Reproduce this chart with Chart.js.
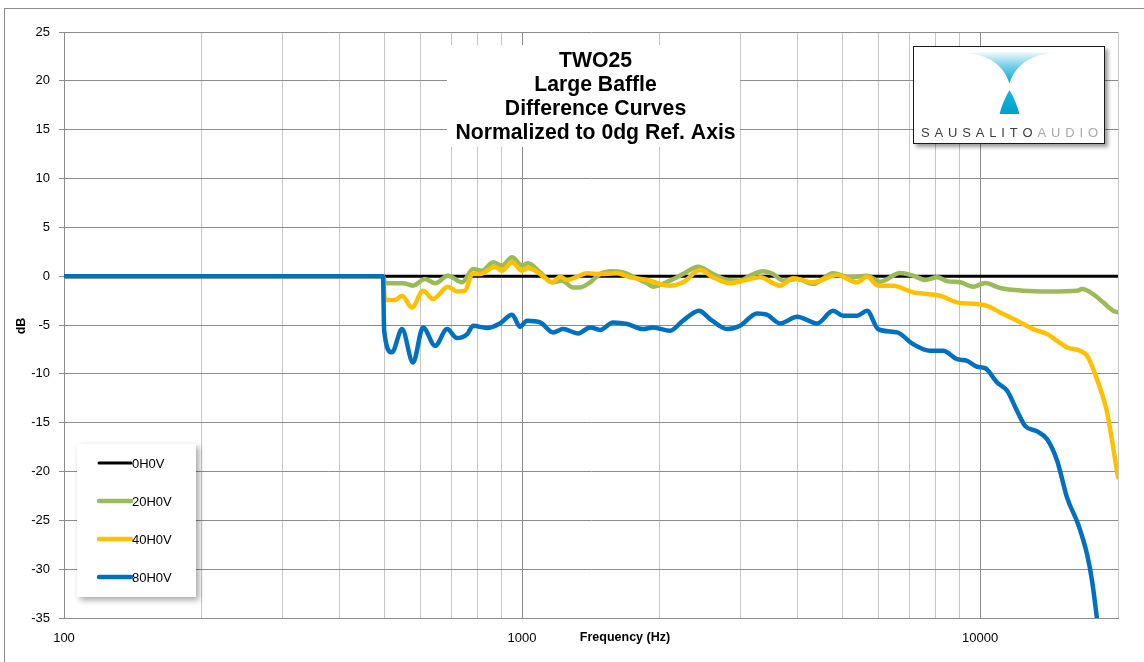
<!DOCTYPE html>
<html>
<head>
<meta charset="utf-8">
<script src="https://cdn.jsdelivr.net/npm/chart.js@4/dist/chart.umd.min.js"></script>
<style>
  html, body { margin: 0; padding: 0; background: #fff; }
  canvas { display: block; }
</style>
</head>
<body>
<canvas id="chart" width="1144" height="662"></canvas>
<script>
// ---- Series names and colours ----
const seriesNames  = ['0H0V', '20H0V', '40H0V', '80H0V'];
const seriesColors = ['#000000', '#9BBB59', '#FFC000', '#0070C0'];
const seriesWidths = [3, 4.5, 4.5, 4.5];

// ---- 0H0V reference axis (Hz / dB) ----
const freq0 = [100, 20000];
const db0   = [0, 0];

// ---- 20H0V (Hz / dB) ----
const freq20 = [100, 497, 502, 550, 578, 614, 646, 689, 740, 782, 818, 865, 904, 951, 1000, 1031, 1095, 1163, 1223, 1292,
  1339, 1408, 1480, 1556, 1662, 1748, 1875, 1932, 2104, 2246, 2423, 2612, 2804, 2992, 3146, 3359, 3532, 3715, 3986, 4318,
  4775, 5203, 5665, 6049, 6690, 7141, 7585, 8056, 8513, 9045, 9654, 10254, 11058, 12413, 14217, 16285, 16698, 17646, 18562, 19517, 20000];
const db20 = [0, 0, -0.73, -0.73, -0.97, -0.29, -0.73, 0.05, -0.63, 0.73, 0.56, 1.42, 1.08, 1.93, 1.08, 1.32, 0.39, -0.63, -0.46, -1.15,
  -1.15, -0.63, 0.22, 0.5, 0.39, -0.05, -0.73, -1.08, -0.46, 0.22, 0.97, 0.22, -0.39, -0.46, 0.05, 0.5, 0.22, -0.46, -0.29, -0.8,
  0.29, -0.12, 0.05, -0.56, 0.32, 0.05, -0.39, -0.12, -0.53, -0.63, -1.08, -0.7, -1.21, -1.49, -1.56, -1.49, -1.32, -1.83, -2.68, -3.54, -3.71];

// ---- 40H0V (Hz / dB) ----
const freq40 = [100, 497, 502, 528, 547, 575, 608, 639, 689, 721, 751, 778, 810, 873, 904, 951, 1000, 1031, 1095, 1163,
  1211, 1254, 1319, 1387, 1480, 1612, 1721, 1875, 2104, 2246, 2447, 2612, 2846, 3037, 3309, 3659, 3906, 4318, 4873, 5387,
  5665, 5988, 6457, 7141, 7662, 8179, 8908, 9849, 10358, 11058, 12044, 13054, 14006, 14728, 15488, 16531, 17124, 17827, 18562, 18937, 20000];
const db40 = [0, 0, -2.44, -2.44, -2.0, -3.2, -1.49, -2.34, -1.08, -1.56, -1.49, 0.22, 0.22, 0.97, 0.56, 1.42, 0.56, 0.84, 0.22, -0.63,
  -0.05, -0.39, -0.05, 0.29, 0.22, 0.29, -0.12, -0.39, -0.97, -0.63, 0.63, -0.12, -0.73, -0.46, -0.12, -0.97, -0.22, -0.63, 0.12, -0.63,
  -0.05, -0.97, -0.97, -1.66, -1.83, -2.0, -2.68, -2.85, -3.03, -3.71, -4.56, -5.42, -5.93, -6.62, -7.3, -7.64, -8.15, -10.03, -12.43, -13.97, -20.6];

// ---- 80H0V (Hz / dB) ----
const freq80 = [100, 497, 500, 520, 547, 578, 608, 646, 686, 721, 759, 782, 839, 895, 951, 990, 1025, 1095, 1169, 1229,
  1326, 1408, 1480, 1580, 1696, 1838, 1932, 2104, 2246, 2435, 2573, 2804, 2992, 3259, 3427, 3659, 3986, 4406, 4775, 5023,
  5387, 5665, 5988, 6590, 7141, 7778, 8304, 8908, 9368, 9849, 10254, 10892, 11455, 12044, 12539, 13323, 14006, 14728, 15488, 16368,
  17124, 17556, 18009];
const db80 = [0, 0, -5.6, -7.8, -5.42, -8.84, -5.25, -7.13, -5.42, -6.34, -5.93, -5.08, -5.3, -4.84, -3.95, -5.18, -4.56, -4.74, -5.76, -5.42,
  -5.86, -5.25, -5.5, -4.74, -4.9, -5.42, -5.25, -5.59, -4.56, -3.54, -4.39, -5.42, -5.08, -3.81, -3.95, -4.84, -4.15, -4.84, -3.54, -4.05,
  -4.05, -3.54, -5.42, -5.76, -6.96, -7.64, -7.64, -8.5, -8.67, -9.28, -9.42, -10.89, -11.74, -13.8, -15.33, -15.9, -16.7, -18.9, -22.7, -25.4,
  -28.5, -31.2, -35.2];

// ---- Axes ----
const freqGrid   = [100, 200, 300, 400, 500, 600, 700, 800, 900,
                    1000, 2000, 3000, 4000, 5000, 6000, 7000, 8000, 9000,
                    10000, 20000];
const freqLabels = [100, 1000, 10000];
const dbMin = -35, dbMax = 25, dbStep = 5;

const titleLines = ['TWO25', 'Large Baffle', 'Difference Curves', 'Normalized to 0dg Ref. Axis'];
const xTitle = 'Frequency (Hz)';
const yTitle = 'dB';
const logoWordA = 'SAUSALITO';
const logoWordB = 'AUDIO';

const FONT = "'Liberation Sans', Arial, sans-serif";

function pairs(fs, ds) { return fs.map((f, i) => ({ x: f, y: ds[i] })); }

const allFreqs = [freq0, freq20, freq40, freq80];
const allDbs   = [db0, db20, db40, db80];

const datasets = seriesNames.map((name, i) => ({
  label: name,
  data: pairs(allFreqs[i], allDbs[i]),
  borderColor: seriesColors[i],
  backgroundColor: seriesColors[i],
  borderWidth: seriesWidths[i],
  pointRadius: 0,
  showLine: true,
  fill: false,
  cubicInterpolationMode: 'monotone',
  borderCapStyle: 'round',
  borderJoinStyle: 'round',
  clip: 0,
  order: seriesNames.length - i   // later series sit on top
}));

const decorations = {
  id: 'decorations',
  beforeDraw(chart) {
    const ctx = chart.ctx;
    ctx.save();
    ctx.fillStyle = '#ffffff';
    ctx.fillRect(0, 0, chart.width, chart.height);
    ctx.strokeStyle = '#8c8c8c';
    ctx.lineWidth = 1;
    ctx.strokeRect(4.5, 8.5, chart.width + 20, chart.height + 20);
    ctx.restore();
  },
  afterDraw(chart) {
    const ctx = chart.ctx;
    ctx.save();

    // Axis titles
    ctx.fillStyle = '#000';
    ctx.font = `bold 12.5px ${FONT}`;
    ctx.textAlign = 'center';
    ctx.textBaseline = 'middle';
    ctx.fillText(xTitle, 625, 638);
    ctx.save();
    ctx.translate(22, 326);
    ctx.rotate(-Math.PI / 2);
    ctx.fillText(yTitle, 0, 0);
    ctx.restore();

    // Chart title on a white panel
    ctx.fillStyle = '#ffffff';
    ctx.fillRect(447, 45, 293, 102);
    ctx.fillStyle = '#000';
    ctx.font = `bold 21.2px ${FONT}`;
    ctx.textAlign = 'center';
    ctx.textBaseline = 'alphabetic';
    titleLines.forEach((t, i) => ctx.fillText(t, 595.5, 66.5 + i * 24));

    // Legend panel
    ctx.save();
    ctx.shadowColor = 'rgba(0,0,0,0.35)';
    ctx.shadowBlur = 6;
    ctx.shadowOffsetX = 3;
    ctx.shadowOffsetY = 3;
    ctx.fillStyle = '#ffffff';
    ctx.fillRect(77, 444, 119, 153);
    ctx.restore();
    ctx.font = `13px ${FONT}`;
    ctx.textAlign = 'left';
    ctx.textBaseline = 'middle';
    chart.data.datasets.forEach((ds, i) => {
      const y = 463 + i * 38;
      ctx.strokeStyle = ds.borderColor;
      ctx.lineWidth = ds.borderWidth;
      ctx.lineCap = 'round';
      ctx.beginPath();
      ctx.moveTo(99, y);
      ctx.lineTo(131, y);
      ctx.stroke();
      ctx.fillStyle = '#000';
      ctx.fillText(ds.label, 132, y + 1);
    });

    // Logo panel
    ctx.save();
    ctx.shadowColor = 'rgba(0,0,0,0.4)';
    ctx.shadowBlur = 4;
    ctx.shadowOffsetX = 3;
    ctx.shadowOffsetY = 3;
    ctx.fillStyle = '#ffffff';
    ctx.fillRect(913, 46, 192, 98);
    ctx.restore();
    ctx.strokeStyle = '#1a1a1a';
    ctx.lineWidth = 1;
    ctx.strokeRect(913.5, 46.5, 191, 97);

    // upper funnel shape
    const g1 = ctx.createLinearGradient(0, 52, 0, 84);
    g1.addColorStop(0, 'rgba(0,166,212,0.06)');
    g1.addColorStop(0.45, 'rgba(0,166,212,0.55)');
    g1.addColorStop(1, 'rgba(0,166,212,1)');
    ctx.fillStyle = g1;
    ctx.beginPath();
    ctx.moveTo(966, 53);
    ctx.bezierCurveTo(990, 55, 1004, 66, 1009.5, 83.5);
    ctx.bezierCurveTo(1015, 66, 1029, 55, 1053, 53);
    ctx.quadraticCurveTo(1010, 51, 966, 53);
    ctx.closePath();
    ctx.fill();

    // lower cone shape
    const g2 = ctx.createLinearGradient(0, 90, 0, 114);
    g2.addColorStop(0, '#19b4dc');
    g2.addColorStop(1, '#00a0cc');
    ctx.fillStyle = g2;
    ctx.beginPath();
    ctx.moveTo(1009.5, 90);
    ctx.quadraticCurveTo(1003, 101, 999.5, 114);
    ctx.lineTo(1019.5, 114);
    ctx.quadraticCurveTo(1016, 101, 1009.5, 90);
    ctx.closePath();
    ctx.fill();

    // letter-spaced logotype spanning the panel width
    ctx.font = `13px ${FONT}`;
    ctx.textAlign = 'left';
    ctx.textBaseline = 'alphabetic';
    const letters = (logoWordA + logoWordB).split('');
    const widths = letters.map(ch => ctx.measureText(ch).width);
    const total = widths.reduce((a, b) => a + b, 0);
    const x0 = 921, x1 = 1098;
    const gap = (x1 - x0 - total) / (letters.length - 1);
    let x = x0;
    letters.forEach((ch, i) => {
      ctx.fillStyle = i < logoWordA.length ? '#3c3c3c' : '#a8a8a8';
      ctx.fillText(ch, x, 137);
      x += widths[i] + gap;
    });

    ctx.restore();
  }
};

new Chart(document.getElementById('chart'), {
  type: 'scatter',
  data: { datasets },
  options: {
    responsive: false,
    animation: false,
    devicePixelRatio: 1,
    layout: { padding: { left: 0, right: 26, top: 32, bottom: 14 } },
    plugins: {
      legend: { display: false },
      tooltip: { enabled: false },
      title: { display: false }
    },
    scales: {
      x: {
        type: 'logarithmic',
        min: 100,
        max: 20000,
        afterBuildTicks: (scale) => { scale.ticks = freqGrid.map(v => ({ value: v })); },
        afterFit: (scale) => { scale.height = 30; },
        ticks: {
          autoSkip: false,
          maxRotation: 0,
          minRotation: 0,
          padding: 13,
          color: '#000',
          font: { family: FONT, size: 13 },
          callback: (v) => freqLabels.includes(v) ? String(v) : ''
        },
        grid: {
          drawTicks: false,
          lineWidth: 1,
          color: (c) => {
            const v = c.tick && c.tick.value;
            return freqLabels.includes(v) ? '#8c8c8c' : '#c6c6c6';
          }
        },
        border: { color: '#8c8c8c', width: 1 }
      },
      y: {
        min: dbMin,
        max: dbMax,
        afterFit: (scale) => { scale.width = 64; },
        ticks: {
          stepSize: dbStep,
          padding: 9,
          color: '#000',
          font: { family: FONT, size: 13 }
        },
        grid: {
          color: '#8c8c8c',
          lineWidth: 1,
          drawTicks: true,
          tickLength: 5
        },
        border: { color: '#8c8c8c', width: 1 }
      }
    }
  },
  plugins: [decorations]
});
</script>
</body>
</html>
